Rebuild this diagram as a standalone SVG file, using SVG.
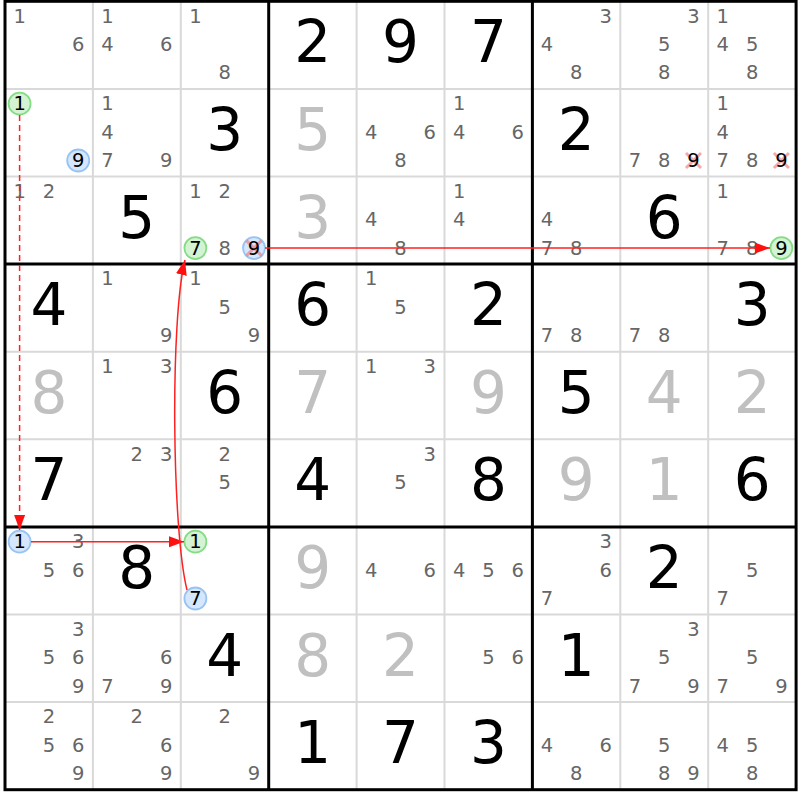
<svg xmlns="http://www.w3.org/2000/svg" width="800" height="800" viewBox="0 0 800 800">
<defs>
<style>
.thin{stroke:#d9d9d9;stroke-width:2}
.thick{stroke:#000;stroke-width:3}
text{font-family:"DejaVu Sans",Verdana,sans-serif;text-anchor:middle}
.c{font-size:19.5px;fill:#666}
.k{font-size:19.5px;fill:#000}
.g{font-size:58px;fill:#000}
.s{font-size:58px;fill:#c0c0c0}
.cg{fill:#d3f3d3;stroke:#86dc86;stroke-width:1.8}
.cb{fill:#d4e7fc;stroke:#98c3f3;stroke-width:1.8}
.x{stroke:#f07070;stroke-opacity:0.6;stroke-width:3}
.ln{fill:none;stroke:#ff2020;stroke-width:1.5}
</style>
<marker id="ah" markerUnits="userSpaceOnUse" markerWidth="16" markerHeight="12" refX="15" refY="5.5" orient="auto">
<path d="M0,0 L15,5.5 L0,11 z" fill="#ff1010"/>
</marker>
</defs>
<rect x="0" y="0" width="800" height="800" fill="#fff"/>
<g id="grid">
<g class="thin">
<line x1="92.9" y1="1.3" x2="92.9" y2="789.7"/><line x1="180.8" y1="1.3" x2="180.8" y2="789.7"/>
<line x1="356.6" y1="1.3" x2="356.6" y2="789.7"/><line x1="444.5" y1="1.3" x2="444.5" y2="789.7"/>
<line x1="620.3" y1="1.3" x2="620.3" y2="789.7"/><line x1="708.2" y1="1.3" x2="708.2" y2="789.7"/>
<line x1="5" y1="88.9" x2="796.1" y2="88.9"/><line x1="5" y1="176.5" x2="796.1" y2="176.5"/>
<line x1="5" y1="351.7" x2="796.1" y2="351.7"/><line x1="5" y1="439.3" x2="796.1" y2="439.3"/>
<line x1="5" y1="614.5" x2="796.1" y2="614.5"/><line x1="5" y1="702.1" x2="796.1" y2="702.1"/>
</g>
<g class="thick">
<line x1="268.7" y1="1.3" x2="268.7" y2="789.7"/><line x1="532.4" y1="1.3" x2="532.4" y2="789.7"/>
<line x1="5" y1="264.1" x2="796.1" y2="264.1"/><line x1="5" y1="526.9" x2="796.1" y2="526.9"/>
<rect x="5" y="1.3" width="791.1" height="788.4" fill="none"/>
</g>
</g>
<g id="cells">
<g id="r0c0"><text class="c" x="19.6" y="22.6">1</text><text class="c" x="78.2" y="51">6</text></g>
<g id="r0c1"><text class="c" x="107.5" y="22.6">1</text><text class="c" x="107.5" y="51">4</text><text class="c" x="166.1" y="51">6</text></g>
<g id="r0c2"><text class="c" x="195.4" y="22.6">1</text><text class="c" x="224.7" y="79.4">8</text></g>
<g id="r0c3"><text class="g" x="312.6" y="62.3">2</text></g>
<g id="r0c4"><text class="g" x="400.5" y="62.3">9</text></g>
<g id="r0c5"><text class="g" x="488.4" y="62.3">7</text></g>
<g id="r0c6"><text class="c" x="605.6" y="22.6">3</text><text class="c" x="547" y="51">4</text><text class="c" x="576.3" y="79.4">8</text></g>
<g id="r0c7"><text class="c" x="693.5" y="22.6">3</text><text class="c" x="664.2" y="51">5</text><text class="c" x="664.2" y="79.4">8</text></g>
<g id="r0c8"><text class="c" x="722.8" y="22.6">1</text><text class="c" x="722.8" y="51">4</text><text class="c" x="752.1" y="51">5</text><text class="c" x="752.1" y="79.4">8</text></g>

<g id="r1c0"><circle class="cg" cx="19.6" cy="103.7" r="11"/><text class="k" x="19.6" y="110.2">1</text><circle class="cb" cx="78.2" cy="160.5" r="11"/><text class="k" x="78.2" y="167">9</text></g>
<g id="r1c1"><text class="c" x="107.5" y="110.2">1</text><text class="c" x="107.5" y="138.6">4</text><text class="c" x="107.5" y="167">7</text><text class="c" x="166.1" y="167">9</text></g>
<g id="r1c2"><text class="g" x="224.7" y="149.9">3</text></g>
<g id="r1c3"><text class="s" x="312.6" y="149.9">5</text></g>
<g id="r1c4"><text class="c" x="371.2" y="138.6">4</text><text class="c" x="429.8" y="138.6">6</text><text class="c" x="400.5" y="167">8</text></g>
<g id="r1c5"><text class="c" x="459.1" y="110.2">1</text><text class="c" x="459.1" y="138.6">4</text><text class="c" x="517.7" y="138.6">6</text></g>
<g id="r1c6"><text class="g" x="576.3" y="149.9">2</text></g>
<g id="r1c7"><text class="c" x="634.9" y="167">7</text><text class="c" x="664.2" y="167">8</text><path class="x" d="M686,153 L701,168 M701,153 L686,168"/><text class="k" x="693.5" y="167">9</text></g>
<g id="r1c8"><text class="c" x="722.8" y="110.2">1</text><text class="c" x="722.8" y="138.6">4</text><text class="c" x="722.8" y="167">7</text><text class="c" x="752.1" y="167">8</text><path class="x" d="M773.9,153 L788.9,168 M788.9,153 L773.9,168"/><text class="k" x="781.4" y="167">9</text></g>

<g id="r2c0"><text class="c" x="19.6" y="197.8">1</text><text class="c" x="48.9" y="197.8">2</text></g>
<g id="r2c1"><text class="g" x="136.8" y="237.5">5</text></g>
<g id="r2c2"><text class="c" x="195.4" y="197.8">1</text><text class="c" x="224.7" y="197.8">2</text><circle class="cg" cx="195.4" cy="248.1" r="11"/><text class="k" x="195.4" y="254.6">7</text><text class="c" x="224.7" y="254.6">8</text><circle class="cb" cx="254" cy="248.1" r="11"/><path class="x" d="M246.5,240.6 L261.5,255.6 M261.5,240.6 L246.5,255.6"/><text class="k" x="254" y="254.6">9</text></g>
<g id="r2c3"><text class="s" x="312.6" y="237.5">3</text></g>
<g id="r2c4"><text class="c" x="371.2" y="226.2">4</text><text class="c" x="400.5" y="254.6">8</text></g>
<g id="r2c5"><text class="c" x="459.1" y="197.8">1</text><text class="c" x="459.1" y="226.2">4</text></g>
<g id="r2c6"><text class="c" x="547" y="226.2">4</text><text class="c" x="547" y="254.6">7</text><text class="c" x="576.3" y="254.6">8</text></g>
<g id="r2c7"><text class="g" x="664.2" y="237.5">6</text></g>
<g id="r2c8"><text class="c" x="722.8" y="197.8">1</text><text class="c" x="722.8" y="254.6">7</text><text class="c" x="752.1" y="254.6">8</text><circle class="cg" cx="781.4" cy="248.1" r="11"/><text class="k" x="781.4" y="254.6">9</text></g>

<g id="r3c0"><text class="g" x="49" y="325.1">4</text></g>
<g id="r3c1"><text class="c" x="107.5" y="285.4">1</text><text class="c" x="166.1" y="342.2">9</text></g>
<g id="r3c2"><text class="c" x="195.4" y="285.4">1</text><text class="c" x="224.7" y="313.8">5</text><text class="c" x="254" y="342.2">9</text></g>
<g id="r3c3"><text class="g" x="312.6" y="325.1">6</text></g>
<g id="r3c4"><text class="c" x="371.2" y="285.4">1</text><text class="c" x="400.5" y="313.8">5</text></g>
<g id="r3c5"><text class="g" x="488.4" y="325.1">2</text></g>
<g id="r3c6"><text class="c" x="547" y="342.2">7</text><text class="c" x="576.3" y="342.2">8</text></g>
<g id="r3c7"><text class="c" x="634.9" y="342.2">7</text><text class="c" x="664.2" y="342.2">8</text></g>
<g id="r3c8"><text class="g" x="752.1" y="325.1">3</text></g>

<g id="r4c0"><text class="s" x="49" y="412.7">8</text></g>
<g id="r4c1"><text class="c" x="107.5" y="373">1</text><text class="c" x="166.1" y="373">3</text></g>
<g id="r4c2"><text class="g" x="224.7" y="412.7">6</text></g>
<g id="r4c3"><text class="s" x="312.6" y="412.7">7</text></g>
<g id="r4c4"><text class="c" x="371.2" y="373">1</text><text class="c" x="429.8" y="373">3</text></g>
<g id="r4c5"><text class="s" x="488.4" y="412.7">9</text></g>
<g id="r4c6"><text class="g" x="576.3" y="412.7">5</text></g>
<g id="r4c7"><text class="s" x="664.2" y="412.7">4</text></g>
<g id="r4c8"><text class="s" x="752.1" y="412.7">2</text></g>

<g id="r5c0"><text class="g" x="49" y="500.3">7</text></g>
<g id="r5c1"><text class="c" x="136.8" y="460.6">2</text><text class="c" x="166.1" y="460.6">3</text></g>
<g id="r5c2"><text class="c" x="224.7" y="460.6">2</text><text class="c" x="224.7" y="489">5</text></g>
<g id="r5c3"><text class="g" x="312.6" y="500.3">4</text></g>
<g id="r5c4"><text class="c" x="429.8" y="460.6">3</text><text class="c" x="400.5" y="489">5</text></g>
<g id="r5c5"><text class="g" x="488.4" y="500.3">8</text></g>
<g id="r5c6"><text class="s" x="576.3" y="500.3">9</text></g>
<g id="r5c7"><text class="s" x="664.2" y="500.3">1</text></g>
<g id="r5c8"><text class="g" x="752.1" y="500.3">6</text></g>

<g id="r6c0"><circle class="cb" cx="19.6" cy="541.7" r="11"/><text class="k" x="19.6" y="548.2">1</text><text class="c" x="78.2" y="548.2">3</text><text class="c" x="48.9" y="576.6">5</text><text class="c" x="78.2" y="576.6">6</text></g>
<g id="r6c1"><text class="g" x="136.8" y="587.9">8</text></g>
<g id="r6c2"><circle class="cg" cx="195.4" cy="541.7" r="11"/><text class="k" x="195.4" y="548.2">1</text><circle class="cb" cx="195.4" cy="598.5" r="11"/><text class="k" x="195.4" y="605">7</text></g>
<g id="r6c3"><text class="s" x="312.6" y="587.9">9</text></g>
<g id="r6c4"><text class="c" x="371.2" y="576.6">4</text><text class="c" x="429.8" y="576.6">6</text></g>
<g id="r6c5"><text class="c" x="459.1" y="576.6">4</text><text class="c" x="488.4" y="576.6">5</text><text class="c" x="517.7" y="576.6">6</text></g>
<g id="r6c6"><text class="c" x="605.6" y="548.2">3</text><text class="c" x="605.6" y="576.6">6</text><text class="c" x="547" y="605">7</text></g>
<g id="r6c7"><text class="g" x="664.2" y="587.9">2</text></g>
<g id="r6c8"><text class="c" x="752.1" y="576.6">5</text><text class="c" x="722.8" y="605">7</text></g>

<g id="r7c0"><text class="c" x="78.2" y="635.8">3</text><text class="c" x="48.9" y="664.2">5</text><text class="c" x="78.2" y="664.2">6</text><text class="c" x="78.2" y="692.6">9</text></g>
<g id="r7c1"><text class="c" x="166.1" y="664.2">6</text><text class="c" x="107.5" y="692.6">7</text><text class="c" x="166.1" y="692.6">9</text></g>
<g id="r7c2"><text class="g" x="224.7" y="675.5">4</text></g>
<g id="r7c3"><text class="s" x="312.6" y="675.5">8</text></g>
<g id="r7c4"><text class="s" x="400.5" y="675.5">2</text></g>
<g id="r7c5"><text class="c" x="488.4" y="664.2">5</text><text class="c" x="517.7" y="664.2">6</text></g>
<g id="r7c6"><text class="g" x="576.3" y="675.5">1</text></g>
<g id="r7c7"><text class="c" x="693.5" y="635.8">3</text><text class="c" x="664.2" y="664.2">5</text><text class="c" x="634.9" y="692.6">7</text><text class="c" x="693.5" y="692.6">9</text></g>
<g id="r7c8"><text class="c" x="752.1" y="664.2">5</text><text class="c" x="722.8" y="692.6">7</text><text class="c" x="781.4" y="692.6">9</text></g>

<g id="r8c0"><text class="c" x="48.9" y="723.4">2</text><text class="c" x="48.9" y="751.8">5</text><text class="c" x="78.2" y="751.8">6</text><text class="c" x="78.2" y="780.2">9</text></g>
<g id="r8c1"><text class="c" x="136.8" y="723.4">2</text><text class="c" x="166.1" y="751.8">6</text><text class="c" x="166.1" y="780.2">9</text></g>
<g id="r8c2"><text class="c" x="224.7" y="723.4">2</text><text class="c" x="254" y="780.2">9</text></g>
<g id="r8c3"><text class="g" x="312.6" y="763.1">1</text></g>
<g id="r8c4"><text class="g" x="400.5" y="763.1">7</text></g>
<g id="r8c5"><text class="g" x="488.4" y="763.1">3</text></g>
<g id="r8c6"><text class="c" x="547" y="751.8">4</text><text class="c" x="605.6" y="751.8">6</text><text class="c" x="576.3" y="780.2">8</text></g>
<g id="r8c7"><text class="c" x="664.2" y="751.8">5</text><text class="c" x="664.2" y="780.2">8</text><text class="c" x="693.5" y="780.2">9</text></g>
<g id="r8c8"><text class="c" x="722.8" y="751.8">4</text><text class="c" x="752.1" y="751.8">5</text><text class="c" x="752.1" y="780.2">8</text></g>
</g>
<g id="connectors">
<path class="ln" d="M19.6,115 L19.6,530" stroke-width="2" stroke-dasharray="6 4" marker-end="url(#ah)"/>
<path class="ln" d="M31,541.7 L184,541.7" marker-end="url(#ah)"/>
<path class="ln" d="M187,590 C172,530 170,320 185,260" marker-end="url(#ah)"/>
<path class="ln" d="M265,248.1 L770,248.1" marker-end="url(#ah)"/>
</g>
</svg>
